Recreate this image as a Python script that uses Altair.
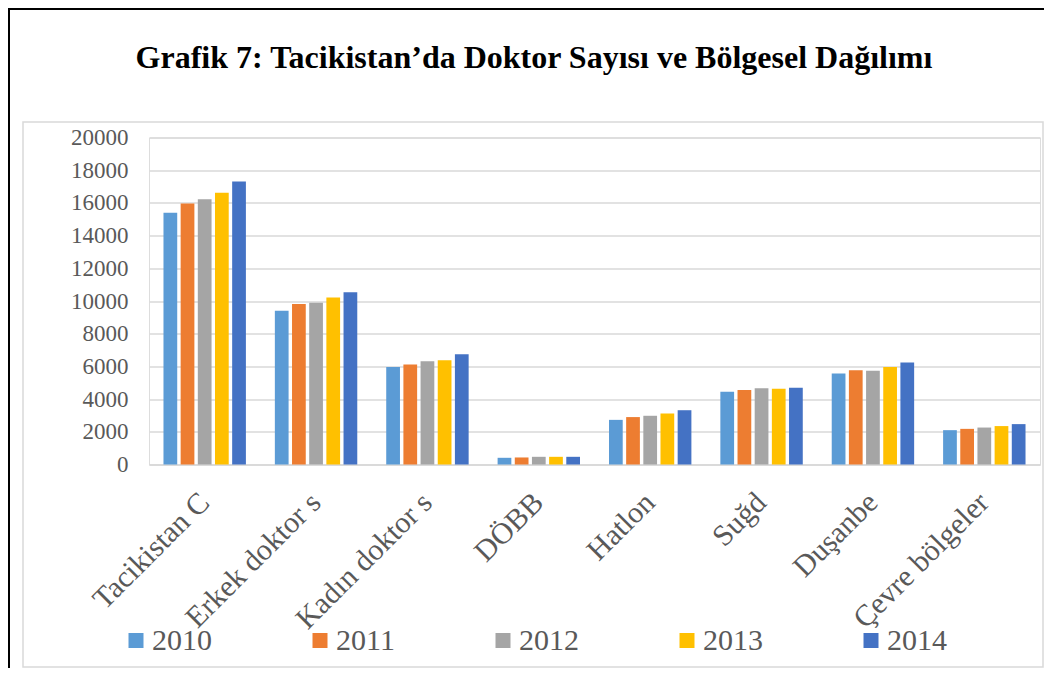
import altair as alt
import pandas as pd

categories = ["Tacikistan C", "Erkek doktor s", "Kadın doktor s", "DÖBB",
              "Hatlon", "Suğd", "Duşanbe", "Çevre bölgeler"]
years = ["2010", "2011", "2012", "2013", "2014"]
values = {
    "2010": [15400, 9400, 5970, 410, 2730, 4450, 5570, 2100],
    "2011": [15960, 9810, 6120, 430, 2900, 4550, 5770, 2180],
    "2012": [16230, 9890, 6320, 470, 2980, 4670, 5730, 2260],
    "2013": [16620, 10220, 6380, 470, 3120, 4630, 5970, 2350],
    "2014": [17310, 10540, 6750, 470, 3320, 4690, 6240, 2470],
}
colors = ["#5B9BD5", "#ED7D31", "#A5A5A5", "#FFC000", "#4472C4"]
title_text = "Grafik 7: Tacikistan’da Doktor Sayısı ve Bölgesel Dağılımı"

rows = []
for y in years:
    for c, v in zip(categories, values[y]):
        rows.append({"cat": c, "year": y, "value": v})
df = pd.DataFrame(rows)

W, H = 891, 327
serif = "Liberation Serif"
one = alt.Data(values=[{}])

box = alt.Chart(one).mark_rect(filled=False, stroke="#d9d9d9", strokeWidth=1.5).encode(
    x=alt.value(-126), x2=alt.value(894), y=alt.value(-15.5), y2=alt.value(529.5)
)
left_line = alt.Chart(one).mark_rule(color="black", strokeWidth=2).encode(
    x=alt.value(-140), y=alt.value(-129.5), y2=alt.value(531)
)
top_line = alt.Chart(one).mark_rule(color="black", strokeWidth=2).encode(
    x=alt.value(-141), x2=alt.value(900), y=alt.value(-128.5)
)
title = alt.Chart(one).mark_text(
    font=serif, fontSize=32, fontWeight="bold", color="black",
    align="center", baseline="alphabetic"
).encode(x=alt.value(385), y=alt.value(-69.5), text=alt.value(title_text))

bars = alt.Chart(df).mark_bar().encode(
    x=alt.X("cat:N", sort=categories, title=None,
            scale=alt.Scale(paddingInner=0.26, paddingOuter=0.13),
            axis=alt.Axis(labelAngle=-45, labelAlign="right", labelBaseline="middle",
                          labelFont=serif, labelFontSize=30, labelColor="#595959",
                          ticks=False, labelPadding=33, domainColor="#d9d9d9",
                          domainWidth=1.3, grid=False, labelOverlap=False)),
    xOffset=alt.XOffset("year:N", sort=years, scale=alt.Scale(paddingInner=0.2)),
    y=alt.Y("value:Q", title=None,
            scale=alt.Scale(domain=[0, 20000], nice=False),
            axis=alt.Axis(values=list(range(0, 20001, 2000)), format="d",
                          labelFont=serif, labelFontSize=23, labelColor="#595959",
                          ticks=False, domain=False, labelPadding=21,
                          gridColor="#d9d9d9", gridWidth=1.3)),
    color=alt.Color("year:N", sort=years,
                    scale=alt.Scale(domain=years, range=colors),
                    legend=alt.Legend(title=None, orient="none", legendX=-28, legendY=488,
                                      direction="horizontal", columns=5,
                                      symbolType="square", symbolSize=225,
                                      symbolStrokeWidth=0, labelFont=serif,
                                      labelFontSize=30, labelColor="#595959",
                                      labelOffset=1, columnPadding=93, padding=0)),
)

chart = alt.layer(box, title, bars, left_line, top_line).properties(
    width=W, height=H,
    autosize=alt.AutoSizeParams(type="none"),
    padding={"left": 141, "top": 129.5, "right": 4, "bottom": 203},
).configure_view(stroke=None).configure(background="white")

chart.save("out.html", embed_options={"renderer": "svg", "actions": False})
